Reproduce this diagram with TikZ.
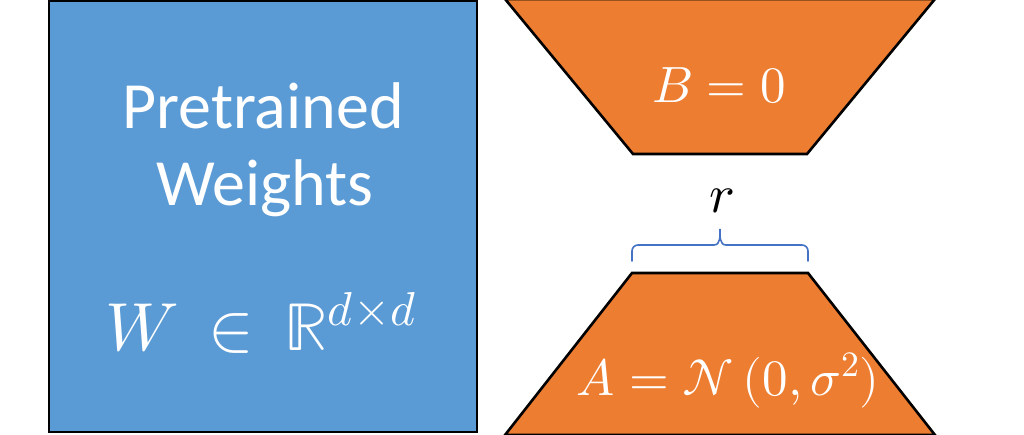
\documentclass[tikz,border=0pt]{standalone}
\usepackage{fontspec}
\usepackage{unicode-math}
\setmathfont{Latin Modern Math}
\usetikzlibrary{calc}
\newfontfamily\calib{Carlito}
\definecolor{wblue}{HTML}{5B9BD5}
\definecolor{lorange}{HTML}{ED7D31}
\definecolor{braceblue}{HTML}{4472C4}
\begin{document}
\begin{tikzpicture}[x=1pt,y=1pt,
  boxline/.style={draw=black,line width=2.6pt,line join=miter},
  weightbox/.style={boxline,fill=wblue},
  lorabox/.style={boxline,fill=lorange},
  wtext/.style={text=white,inner sep=0pt,anchor=base,font=\calib\fontsize{66}{78}\selectfont},
  mtext/.style={text=white,inner sep=0pt,anchor=base,font=\fontsize{68}{80}\selectfont},
  ltext/.style={text=white,inner sep=0pt,anchor=base,font=\fontsize{51}{60}\selectfont},
  bracestyle/.style={draw=braceblue,line width=1.6pt,line cap=round}]
\useasboundingbox (0,0) rectangle (1024,434);
\fill[white] (0,0) rectangle (1024,434);
% pretrained weights square
\draw[weightbox] (49,2) rectangle (477,433);
\node[wtext] (pre) at (263,305) {Pretrained};
\node[wtext] (wei) at (265,228) {Weights};
\node[mtext] (wmath) at (261,84) {$W\,\in\,\mathbb{R}^{d\times d}$};
% B trapezoid
\draw[lorabox] (505,435) -- (935,435) -- (807,280) -- (633,280) -- cycle;
\node[ltext] (bmath) at (719,331) {$B = 0$};
% A trapezoid
\draw[lorabox] (632,161) -- (808,161) -- (935,-1) -- (505,-1) -- cycle;
\node[ltext] (amath) at (728,39) {$A = \mathcal{N}\,(0,\sigma^{2})$};
% rank brace
\coordinate (bl) at (632,173);
\coordinate (br) at (808,173);
\coordinate (bt) at (720,205);
\draw[bracestyle] (bl) -- ++(0,10) to[out=90,in=180] ++(6,6) -- ($(bt)+(-6,-16)$)
  to[out=0,in=-90] (bt) to[out=-90,in=180] ($(bt)+(6,-16)$) -- ($(br)+(-6,16)$)
  to[out=0,in=90] ($(br)+(0,10)$) -- (br);
\node[inner sep=0pt,anchor=base,font=\fontsize{54}{64}\selectfont] (rlab) at (722,221) {$r$};
\end{tikzpicture}
\end{document}
